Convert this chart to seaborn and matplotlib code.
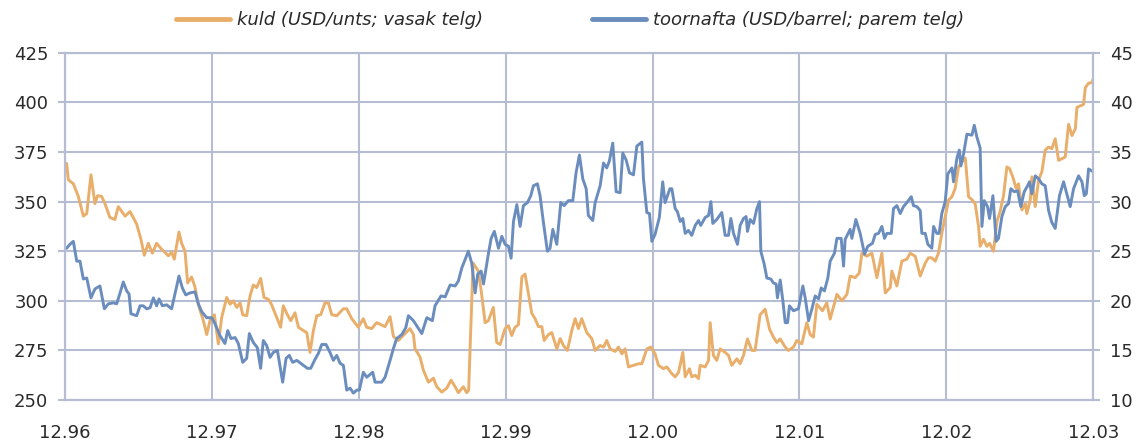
import numpy as np
import pandas as pd
import matplotlib
matplotlib.use('Agg')
import matplotlib.pyplot as plt
import seaborn as sns

# x positions in years counted from 12.96 (Dec 1996)
gold_t = [0.011, 0.023, 0.057, 0.091, 0.125, 0.148, 0.177, 0.204, 0.222, 0.250,
          0.272, 0.306, 0.340, 0.363, 0.409, 0.443, 0.488, 0.517, 0.540, 0.567,
          0.595, 0.624, 0.658, 0.704, 0.726, 0.744, 0.776, 0.794, 0.817, 0.835,
          0.862, 0.885, 0.908, 0.942, 0.965, 0.987, 1.017, 1.044, 1.067, 1.101,
          1.124, 1.146,
          1.169, 1.192, 1.210, 1.237, 1.260, 1.282, 1.305, 1.332, 1.355, 1.384,
          1.407, 1.441, 1.468, 1.486, 1.514, 1.537, 1.566, 1.589, 1.623, 1.646,
          1.668, 1.691, 1.714, 1.741, 1.770, 1.793, 1.816, 1.850, 1.895, 1.918,
          1.952, 1.997, 2.031, 2.054, 2.088, 2.122,
          2.179, 2.213, 2.236, 2.269, 2.315, 2.349, 2.372, 2.383, 2.417, 2.440,
          2.474, 2.508, 2.531, 2.565, 2.599, 2.628, 2.656, 2.678, 2.712, 2.735,
          2.748, 2.778, 2.814, 2.837, 2.860, 2.882, 2.916, 2.939, 2.962,
          2.996, 3.019, 3.041, 3.064, 3.087,
          3.110, 3.132, 3.155, 3.178, 3.200, 3.223, 3.246, 3.262, 3.291, 3.314,
          3.348, 3.371, 3.393, 3.420, 3.450, 3.473, 3.495, 3.518, 3.552, 3.586,
          3.609, 3.643, 3.666, 3.688, 3.711, 3.745, 3.768, 3.791, 3.813, 3.836,
          3.870, 3.904, 3.927, 3.961, 3.988, 4.017, 4.040, 4.074, 4.097,
          4.131, 4.154, 4.177, 4.206, 4.222, 4.251, 4.267, 4.290, 4.313, 4.324,
          4.358, 4.381, 4.392, 4.414, 4.437, 4.460, 4.494, 4.517, 4.539, 4.574,
          4.596, 4.619, 4.646, 4.676, 4.698, 4.732, 4.766, 4.796, 4.823, 4.846,
          4.869, 4.903, 4.925, 4.959, 4.982, 5.016, 5.050, 5.073, 5.095, 5.118,
          5.157, 5.186, 5.209, 5.255, 5.289, 5.323, 5.345, 5.379, 5.407, 5.425,
          5.459, 5.493, 5.527, 5.561, 5.584, 5.618, 5.629, 5.663, 5.697, 5.731,
          5.754, 5.788, 5.822, 5.856, 5.878, 5.901, 5.924, 5.946, 5.969, 5.992,
          6.015, 6.038, 6.060, 6.083, 6.106,
          6.129, 6.151, 6.174, 6.196, 6.219, 6.230, 6.253, 6.276, 6.294, 6.321,
          6.344, 6.366, 6.389, 6.412, 6.430, 6.452, 6.475, 6.491, 6.514, 6.537,
          6.548, 6.571, 6.582, 6.605, 6.628, 6.650, 6.673, 6.696, 6.718, 6.741,
          6.764, 6.787, 6.809, 6.832, 6.855, 6.878, 6.889, 6.912, 6.934, 6.946,
          6.968, 6.991, 7.000]

gold_usd = [369.3, 361, 359, 352.6, 342.7, 344, 363.5, 349, 353, 352.6,
            349, 342, 341, 347.5, 342.7, 345, 338.7, 331, 323, 329,
            324, 329, 326, 322.7, 324.5, 321, 334.7, 329, 325, 309,
            312, 307, 298, 290, 283, 290, 293, 278.3, 291.7, 301.7,
            298.3, 300,
            296.7, 299, 293, 292.5, 302.5, 308, 306.7, 311.3, 301.7, 300.8,
            298, 291.7, 286.7, 297.5, 293, 290, 294, 286.7, 285, 284,
            274, 285, 292.5, 293, 299, 299, 293, 292.5, 296, 296,
            291, 286.7, 291, 286.7, 286, 289,
            287, 292, 282, 280, 283.5, 286, 283, 275.8, 271.7, 265,
            259, 261, 256.7, 254, 256, 260, 256.7, 253.7, 256.7, 253.7,
            255, 319, 315, 303, 289, 290, 296.7, 279, 278,
            286, 287.5, 282.5, 286.7, 288,
            312, 313.5, 303.7, 293.7, 291, 287, 287, 280, 283, 284,
            275.8, 281, 277.5, 275, 285, 291, 286, 291, 284, 281,
            275, 277.5, 276.7, 280, 275.8, 274.5, 276.7, 273.3, 275.8, 266.7,
            267.5, 268.3, 268.3, 275.8, 276.7, 273.3, 267.5, 265.8, 266.7,
            263.3, 261.7, 264, 274, 261.7, 265.8, 261.7, 262.5, 260.8, 267.5,
            266.7, 270, 289, 272.5, 270, 275.8, 274, 272.5, 267.5, 270.8,
            268.3, 272.5, 280.8, 275, 275, 293, 295.8, 285.8, 281.7, 279,
            280.8, 276.7, 275, 276.7, 280, 278.3, 289, 283, 281.7, 298.3,
            295, 299, 290.8, 303.3, 300, 303.3, 312.5, 311.7, 314, 324,
            322.5, 324, 311.7, 324, 304, 306.7, 315, 307.5, 320, 321,
            324, 322.5, 312.5, 319, 321.7, 321.7, 320, 324, 334, 342.5,
            350.8, 352.5, 356.7, 367.5, 370,
            372, 352.5, 351, 349, 337.5, 327.5, 331, 327.5, 329, 325,
            340, 345, 353, 367.5, 366.7, 362.5, 356.7, 359, 345.8, 349,
            344, 350.8, 362.5, 347.5, 361, 365, 376, 377.5, 376.7, 381.7,
            370.8, 371.7, 372.5, 389, 383.3, 386.7, 397.5, 398.3, 399, 407.5,
            409.7, 410, 412]

oil_t = [0.011, 0.034, 0.057, 0.080, 0.102, 0.125, 0.148, 0.177, 0.204, 0.238,
         0.268, 0.295, 0.329, 0.352, 0.375, 0.397, 0.420, 0.436, 0.449, 0.488,
         0.511, 0.533, 0.556, 0.579, 0.602, 0.624, 0.640, 0.663, 0.692, 0.726,
         0.749, 0.776, 0.799, 0.822, 0.851, 0.885, 0.908, 0.931, 0.965, 0.999,
         1.021, 1.055, 1.089, 1.108, 1.130,
         1.158, 1.180, 1.210, 1.237, 1.255, 1.282, 1.309, 1.332, 1.350, 1.373,
         1.396, 1.418, 1.446, 1.482, 1.505, 1.527, 1.550, 1.578, 1.596, 1.623,
         1.650, 1.673, 1.702, 1.725, 1.748, 1.777, 1.804, 1.827, 1.850, 1.873,
         1.895, 1.918, 1.941, 1.963, 1.986, 2.004, 2.031, 2.054, 2.095, 2.111,
         2.156, 2.179, 2.213, 2.236, 2.258, 2.293, 2.320, 2.338, 2.372, 2.394,
         2.429, 2.463, 2.501, 2.519, 2.560, 2.588, 2.622, 2.656, 2.678, 2.701,
         2.746, 2.769, 2.792, 2.810, 2.833, 2.849, 2.882, 2.901, 2.923, 2.951,
         2.974, 2.996, 3.019, 3.037, 3.053, 3.076, 3.098,
         3.121, 3.148, 3.171, 3.189, 3.216, 3.234, 3.257, 3.284, 3.302, 3.321,
         3.348, 3.375, 3.398, 3.427, 3.457, 3.479, 3.502, 3.525, 3.548, 3.563,
         3.593, 3.609, 3.643, 3.666, 3.688, 3.706, 3.729, 3.752, 3.779, 3.797,
         3.820, 3.843, 3.870, 3.893, 3.927, 3.938, 3.961, 3.979, 3.995, 4.017,
         4.046, 4.069, 4.085,
         4.118, 4.131, 4.154, 4.169, 4.188, 4.206, 4.222, 4.244, 4.267, 4.290,
         4.313, 4.328, 4.358, 4.381, 4.397, 4.410, 4.437, 4.471, 4.494, 4.517,
         4.533, 4.551, 4.578, 4.596, 4.619, 4.637, 4.646, 4.664, 4.687, 4.710,
         4.728, 4.737, 4.760, 4.778, 4.805, 4.823, 4.841, 4.850, 4.869, 4.887,
         4.903, 4.919, 4.932, 4.959, 4.993, 5.023, 5.039, 5.062, 5.085, 5.107,
         5.130, 5.148, 5.170, 5.193, 5.209, 5.238, 5.255, 5.284, 5.300, 5.311,
         5.345, 5.357, 5.384, 5.413, 5.443, 5.465, 5.497, 5.516, 5.538, 5.561,
         5.579, 5.595, 5.625, 5.640, 5.663, 5.686, 5.708, 5.731, 5.761, 5.776,
         5.799, 5.822, 5.833, 5.856, 5.874, 5.901, 5.913, 5.935, 5.951, 5.969,
         5.992, 6.010, 6.038, 6.049, 6.072, 6.088,
         6.099, 6.117, 6.140, 6.174, 6.190, 6.208, 6.230, 6.242, 6.258, 6.280,
         6.294, 6.317, 6.339, 6.355, 6.378, 6.401, 6.423, 6.439, 6.462, 6.485,
         6.507, 6.530, 6.553, 6.566, 6.582, 6.605, 6.628, 6.650, 6.673, 6.696,
         6.718, 6.741, 6.770, 6.798, 6.816, 6.843, 6.866, 6.900, 6.923, 6.939,
         6.953, 6.968, 7.000]

oil_usd = [25.3, 25.7, 26, 24, 24, 22.2, 22.3, 20.3, 21.2, 21.5,
           19.2, 19.7, 19.8, 19.7, 20.8, 21.9, 21, 20.7, 18.7, 18.5,
           19.5, 19.5, 19.2, 19.3, 20.3, 19.5, 20.2, 19.5, 19.6, 19.2,
           20.7, 22.5, 21.3, 20.6, 20.8, 20.9, 19.7, 18.9, 18.3, 18.3,
           17.7, 16.5, 15.7, 17, 16.2,
           16.3, 15.7, 13.8, 14.2, 16.7, 15.8, 15.3, 13.2, 16, 15.5,
           14.3, 14.8, 15, 11.8, 14.2, 14.5, 13.8, 14, 13.8, 13.5,
           13.2, 13.2, 14.1, 14.7, 15.6, 15.6, 14.8, 14, 14.5, 13.7,
           13.5, 11, 11.2, 10.7, 11, 11, 12.8, 12.3, 12.8, 11.8,
           11.8, 12.3, 14, 15.2, 16.2, 16.6, 17.3, 18.5, 18, 17.5,
           16.7, 18.3, 18, 19.5, 20.5, 20.4, 21.6, 21.5, 22, 23.3,
           25, 23.8, 20.8, 22.7, 23, 21.7, 24.7, 26.3, 27, 25.3,
           26.5, 25.7, 25.5, 24.3, 28, 29.7, 27.5,
           29.6, 29.9, 30.6, 31.6, 31.8, 30.6, 27.9, 25, 25.3, 27.2,
           25.7, 29.9, 29.6, 30.1, 30.1, 32.9, 34.7, 32.3, 31.3, 28.6,
           28.1, 29.9, 31.6, 33.9, 33.4, 34.1, 35.9, 31, 30.9, 34.9,
           34.2, 32.9, 32.7, 35.6, 36, 32.3, 28.9, 28.8, 26, 26.7,
           28.4, 32, 29.9,
           31.3, 31.3, 29.3, 29, 28, 28.3, 26.8, 27.1, 26.6, 27.6,
           28.1, 27.6, 28.4, 28.6, 30, 27.8, 28.2, 28.9, 26.6, 26.6,
           28.3, 26.8, 25.7, 27.6, 28.3, 28.5, 27, 28.2, 27.8, 29.3,
           30, 25, 23.7, 22.3, 22.2, 21.8, 21.7, 20.3, 22.1, 20,
           17.8, 17.8, 19.5, 19, 19.2, 21.5, 20.3, 18, 19.2, 20.5,
           20.2, 21.3, 21, 22.3, 24, 24.8, 26.3, 26.3, 23.5, 26.2,
           27.2, 26.3, 28.2, 26.8, 24.7, 25.5, 25.8, 26.7, 26.8, 27.5,
           26.3, 26.8, 26.8, 29.3, 29.6, 28.8, 29.5, 29.9, 30.5, 29.6,
           29.5, 29.1, 26.8, 26.8, 25.7, 25.3, 27.5, 26.8, 26.8, 28.8,
           30, 32.8, 33.4, 32, 34.4, 35.2,
           33.6, 34.8, 36.8, 36.7, 37.7, 36.5, 35.4, 27.5, 30.1, 29.5,
           28.3, 30.6, 26, 26.3, 28.5, 29.5, 29.8, 31.3, 31, 31.1,
           29.5, 31, 31.6, 32, 30.8, 32.6, 32.3, 31.8, 31.6, 29.1,
           27.9, 27.3, 30.6, 32, 31, 29.5, 31.3, 32.6, 32, 30.6,
           30.8, 33.3, 33]

year_labels = ['12.96', '12.97', '12.98', '12.99', '12.00', '12.01', '12.02', '12.03']
gold_label = 'kuld (USD/unts; vasak telg)'
oil_label = 'toornafta (USD/barrel; parem telg)'

gold_df = pd.DataFrame({'t': gold_t, 'v': gold_usd})
oil_df = pd.DataFrame({'t': oil_t, 'v': oil_usd})

sns.set_style('white')
plt.rcParams['font.family'] = ['DejaVu Sans']

gold_col = '#E8AE6A'
oil_col = '#6A8DBE'
grid_col = '#B6BDD2'
text_col = '#2a2a2a'

fig = plt.figure(figsize=(11.4, 4.44), dpi=100)
ax = fig.add_axes([0.057, 0.099, 0.902, 0.782])
ax2 = ax.twinx()

sns.lineplot(data=gold_df, x='t', y='v', ax=ax, color=gold_col, lw=2.1, label=gold_label, legend=False)
sns.lineplot(data=oil_df, x='t', y='v', ax=ax2, color=oil_col, lw=2.1, label=oil_label, legend=False)

ax.set_xlim(0, 7)
ax.set_ylim(250, 425)
ax2.set_ylim(10, 45)
ax.set_xticks(range(8))
ax.set_xticklabels(year_labels)
ax.set_yticks(np.arange(250, 426, 25))
ax2.set_yticks(np.arange(10, 46, 5))
ax.set_xlabel('')
ax.set_ylabel('')
ax2.set_xlabel('')
ax2.set_ylabel('')

ax.grid(True, color=grid_col, lw=1.5)
ax.set_axisbelow(True)
for a in (ax, ax2):
    for s in a.spines.values():
        s.set_color(grid_col)
        s.set_linewidth(1.5)
    a.tick_params(length=5, width=1.5, color=grid_col, labelsize=13, labelcolor=text_col)
ax.tick_params(axis='x', pad=12)
ax.tick_params(axis='y', pad=7)
ax2.tick_params(axis='y', pad=7)

h1, l1 = ax.get_legend_handles_labels()
h2, l2 = ax2.get_legend_handles_labels()
leg = fig.legend(h1 + h2, l1 + l2, loc='upper center', bbox_to_anchor=(0.5, 1.0), ncol=2,
                 frameon=False, fontsize=13, handlelength=3.0, columnspacing=6.0,
                 handletextpad=0.4, borderaxespad=0.2)
for line in leg.get_lines():
    line.set_linewidth(3.5)
for txt in leg.get_texts():
    txt.set_fontstyle('italic')
    txt.set_color(text_col)

fig.savefig('out.png', dpi=100)
